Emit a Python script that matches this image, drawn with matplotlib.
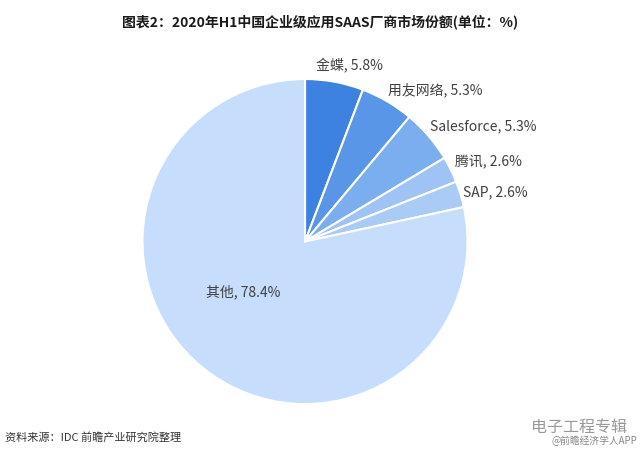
import matplotlib
matplotlib.use("Agg")
import matplotlib.pyplot as plt

plt.rcParams['font.family'] = ['Noto Sans CJK SC', 'DejaVu Sans']

categories = ['金蝶', '用友网络', 'Salesforce', '腾讯', 'SAP', '其他']
values = [5.8, 5.3, 5.3, 2.6, 2.6, 78.4]
colors = ['#3D82E0', '#5A96E7', '#7BAEEE', '#9EC3F4', '#A9CBF6', '#C6DEFB']
title = '图表2：2020年H1中国企业级应用SAAS厂商市场份额(单位：%)'
source = '资料来源：IDC 前瞻产业研究院整理'

fig = plt.figure(figsize=(6.4, 4.56), dpi=100)
ax = fig.add_axes([0.2227, 0.1118, 0.5078, 0.7127])
wedges, _ = ax.pie(values, colors=colors, startangle=90, counterclock=False,
                   radius=1.0, wedgeprops=dict(edgecolor='white', linewidth=1.5))
ax.set_xlim(-1, 1)
ax.set_ylim(-1, 1)
ax.set_aspect('equal')
ax.axis('off')

label_pos = [(0.07, 1.092, 'left'), (0.51, 0.938, 'left'), (0.77, 0.717, 'left'),
             (0.923, 0.495, 'left'), (0.972, 0.311, 'left'), (-0.378, -0.305, 'center')]
for cat, val, (x, y, ha) in zip(categories, values, label_pos):
    ax.text(x, y, f'{cat}, {val}%', ha=ha, va='center', fontsize=10,
            color='#404040', clip_on=False)

fig.text(0.5, 0.952, title, ha='center', va='center', fontsize=10,
         fontweight='bold', color='#1a1a1a')
fig.text(0.008, 0.04, source, ha='left', va='center', fontsize=8, color='#333333')
fig.text(0.98, 0.062, '电子工程专辑', ha='right', va='center', fontsize=11.5, color='#999999')
fig.text(0.995, 0.033, '@前瞻经济学人APP', ha='right', va='center', fontsize=7, color='#888888')

fig.savefig('out.png', dpi=100)
